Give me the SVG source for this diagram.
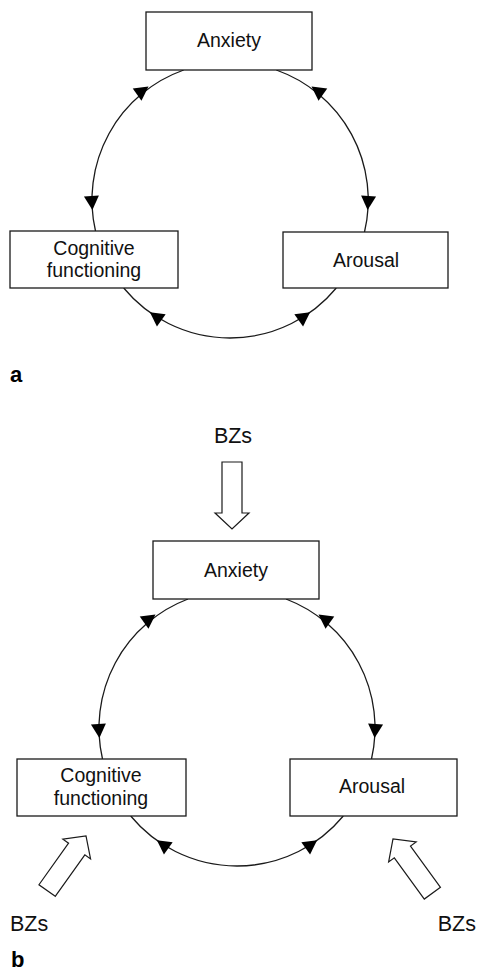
<svg xmlns="http://www.w3.org/2000/svg" xmlns:xlink="http://www.w3.org/1999/xlink" width="478" height="974" viewBox="0 0 478 974">
<style>
.box{fill:#fff;stroke:#1a1a1a;stroke-width:1.3}
.lbl{font-family:"Liberation Sans",Arial,Helvetica,sans-serif;font-size:19.5px;fill:#111;text-anchor:middle}
.bz{font-family:"Liberation Sans",Arial,Helvetica,sans-serif;font-size:21.5px;fill:#111}
.pl{font-family:"Liberation Sans",Arial,Helvetica,sans-serif;font-size:22px;font-weight:bold;fill:#000}
.arc{fill:none;stroke:#1a1a1a;stroke-width:1.3}
.hollow{fill:#fff;stroke:#1a1a1a;stroke-width:1.2;stroke-linejoin:miter}
</style>
<defs>
<polygon id="ah" points="0,0 -14,-7.5 -14,7.5" fill="#000"/>
<polygon id="big" points="-10,-67 10,-67 10,-16 17,-16 0,0 -17,-16 -10,-16"/>
</defs>

<!-- Panel a -->
<g id="connectors-a">
<path class="arc" d="M183.7,70 A138,138 0 0 0 95.5,231"/>
<path class="arc" d="M276.3,70 A138,138 0 0 1 364.5,232"/>
<path class="arc" d="M123.7,288 A138,138 0 0 0 336.3,288"/>
<use xlink:href="#ah" transform="translate(148.5,86.5) rotate(-35.5)"/>
<use xlink:href="#ah" transform="translate(311.5,86.5) rotate(-144.5)"/>
<use xlink:href="#ah" transform="translate(92.4,210) rotate(86)"/>
<use xlink:href="#ah" transform="translate(367.6,210) rotate(94)"/>
<use xlink:href="#ah" transform="translate(149.9,312.3) rotate(215.5)"/>
<use xlink:href="#ah" transform="translate(310.1,312.3) rotate(-35.5)"/>
</g>
<g id="anxiety-a">
<rect class="box" x="146" y="12" width="166" height="58"/>
<text class="lbl" x="229" y="47">Anxiety</text>
</g>
<g id="cognitive-a">
<rect class="box" x="10" y="231" width="168" height="57"/>
<text class="lbl" x="94" y="255">Cognitive</text>
<text class="lbl" x="94" y="277">functioning</text>
</g>
<g id="arousal-a">
<rect class="box" x="283" y="232" width="165" height="56"/>
<text class="lbl" x="366" y="267">Arousal</text>
</g>
<text class="pl" x="10" y="382">a</text>

<!-- Panel b -->
<g id="connectors-b">
<path class="arc" d="M188,599 A138,138 0 0 0 102.5,759"/>
<path class="arc" d="M286,599 A138,138 0 0 1 371.5,759"/>
<path class="arc" d="M130.7,816 A138,138 0 0 0 343.3,816"/>
<use xlink:href="#ah" transform="translate(155.5,614.5) rotate(-35.5)"/>
<use xlink:href="#ah" transform="translate(318.5,614.5) rotate(-144.5)"/>
<use xlink:href="#ah" transform="translate(99.4,738) rotate(86)"/>
<use xlink:href="#ah" transform="translate(374.6,738) rotate(94)"/>
<use xlink:href="#ah" transform="translate(156.9,840.3) rotate(215.5)"/>
<use xlink:href="#ah" transform="translate(317.1,840.3) rotate(-35.5)"/>
</g>
<g id="bz-arrows">
<use xlink:href="#big" class="hollow" transform="translate(232,529)"/>
<use xlink:href="#big" class="hollow" transform="translate(86,836) rotate(-144.5)"/>
<use xlink:href="#big" class="hollow" transform="translate(393,839) rotate(144)"/>
</g>
<g id="anxiety-b">
<rect class="box" x="153" y="541" width="166" height="58"/>
<text class="lbl" x="236" y="577">Anxiety</text>
</g>
<g id="cognitive-b">
<rect class="box" x="17" y="759" width="169" height="57"/>
<text class="lbl" x="101" y="782">Cognitive</text>
<text class="lbl" x="101" y="805">functioning</text>
</g>
<g id="arousal-b">
<rect class="box" x="290" y="759" width="167" height="57"/>
<text class="lbl" x="372" y="793">Arousal</text>
</g>
<g id="bz-top"><text class="bz" x="233" y="443" text-anchor="middle">BZs</text></g>
<g id="bz-left"><text class="bz" x="10" y="931">BZs</text></g>
<g id="bz-right"><text class="bz" x="476" y="931" text-anchor="end">BZs</text></g>
<text class="pl" x="11" y="967" font-size="21">b</text>
</svg>
